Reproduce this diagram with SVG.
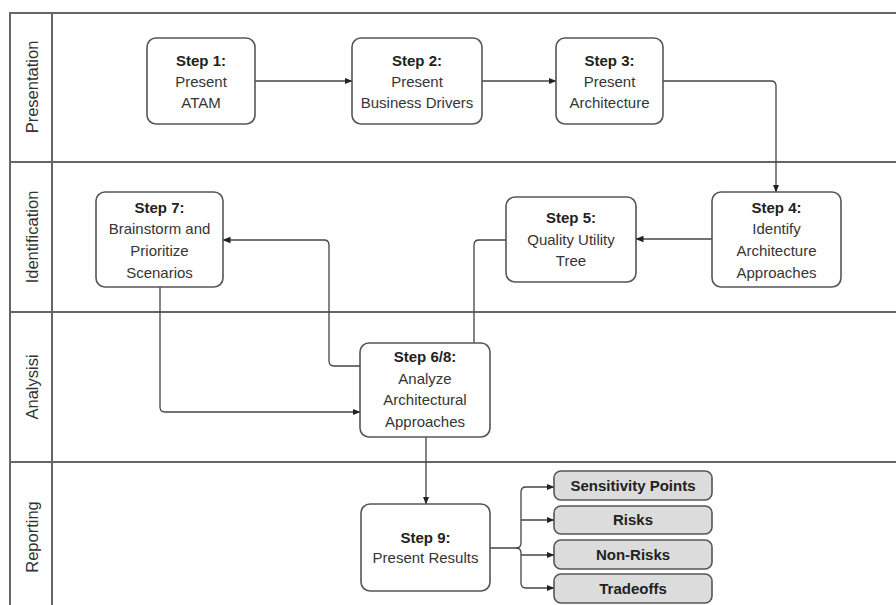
<svg xmlns="http://www.w3.org/2000/svg" width="896" height="605" viewBox="0 0 896 605">
  <defs>
    <marker id="arrow" viewBox="0 0 8 8" refX="7.5" refY="4" markerWidth="8" markerHeight="8" markerUnits="userSpaceOnUse" orient="auto">
      <path d="M0,0.8 L8,4 L0,7.2 Z" fill="#222"/>
    </marker>
  </defs>
  <style>
    .lane { stroke: #666; stroke-width: 2; fill: none; }
    .box { fill: #fff; stroke: #555; stroke-width: 1.6; }
    .out { fill: #dcdcdc; stroke: #555; stroke-width: 1.6; }
    .wire { fill: none; stroke: #444; stroke-width: 1.3; }
    text { font-family: "Liberation Sans", Arial, sans-serif; font-size: 15px; fill: #353535; text-anchor: middle; }
    .b { font-weight: bold; fill: #222; }
    .lbl { font-size: 16.5px; fill: #333; }
  </style>

  <rect width="896" height="605" fill="#fff"/>

  <!-- swimlane grid -->
  <g id="lanes">
    <path class="lane" d="M10,605 V13 H896"/>
    <path class="lane" d="M52,13 V605"/>
    <path class="lane" d="M10,162 H896"/>
    <path class="lane" d="M10,312 H896"/>
    <path class="lane" d="M10,462 H896"/>
    <text class="lbl" transform="translate(38,87) rotate(-90)">Presentation</text>
    <text class="lbl" transform="translate(38,237) rotate(-90)">Identification</text>
    <text class="lbl" transform="translate(38,387) rotate(-90)">Analysisi</text>
    <text class="lbl" transform="translate(38,537) rotate(-90)">Reporting</text>
  </g>

  <!-- connectors -->
  <g id="connectors">
    <path class="wire" d="M255,81 H352" marker-end="url(#arrow)"/>
    <path class="wire" d="M482,81 H556" marker-end="url(#arrow)"/>
    <path class="wire" d="M663,81 H771 Q776,81 776,86 V192" marker-end="url(#arrow)"/>
    <path class="wire" d="M712,239 H636" marker-end="url(#arrow)"/>
    <path class="wire" d="M506,240 H479 Q474,240 474,245 V343"/>
    <path class="wire" d="M360,366 H334 Q329,366 329,361 V245 Q329,240 324,240 H223" marker-end="url(#arrow)"/>
    <path class="wire" d="M160,287 V407 Q160,412 165,412 H360" marker-end="url(#arrow)"/>
    <path class="wire" d="M426,437 V504" marker-end="url(#arrow)"/>
    <path class="wire" d="M490,548 H516 Q521,548 521,543 V492 Q521,487 526,487 H554" marker-end="url(#arrow)"/>
    <path class="wire" d="M516,548 Q521,548 521,553 V583 Q521,588 526,588 H554" marker-end="url(#arrow)"/>
    <path class="wire" d="M521,520 H554" marker-end="url(#arrow)"/>
    <path class="wire" d="M521,555 H554" marker-end="url(#arrow)"/>
  </g>

  <g id="step1">
    <rect class="box" x="147" y="38" width="108" height="86" rx="9"/>
    <text class="b" x="201" y="66">Step 1:</text>
    <text x="201" y="87">Present</text>
    <text x="201" y="108">ATAM</text>
  </g>
  <g id="step2">
    <rect class="box" x="352" y="38" width="130" height="86" rx="9"/>
    <text class="b" x="417" y="66">Step 2:</text>
    <text x="417" y="87">Present</text>
    <text x="417" y="108">Business Drivers</text>
  </g>
  <g id="step3">
    <rect class="box" x="556" y="38" width="107" height="86" rx="9"/>
    <text class="b" x="609.5" y="66">Step 3:</text>
    <text x="609.5" y="87">Present</text>
    <text x="609.5" y="108">Architecture</text>
  </g>
  <g id="step4">
    <rect class="box" x="712" y="192" width="129" height="95" rx="9"/>
    <text class="b" x="776.5" y="213">Step 4:</text>
    <text x="776.5" y="234">Identify</text>
    <text x="776.5" y="256">Architecture</text>
    <text x="776.5" y="278">Approaches</text>
  </g>
  <g id="step5">
    <rect class="box" x="506" y="197" width="130" height="85" rx="9"/>
    <text class="b" x="571" y="223">Step 5:</text>
    <text x="571" y="245">Quality Utility</text>
    <text x="571" y="266">Tree</text>
  </g>
  <g id="step7">
    <rect class="box" x="96" y="192" width="127" height="95" rx="9"/>
    <text class="b" x="159.5" y="213">Step 7:</text>
    <text x="159.5" y="234">Brainstorm and</text>
    <text x="159.5" y="256">Prioritize</text>
    <text x="159.5" y="278">Scenarios</text>
  </g>
  <g id="step6-8">
    <rect class="box" x="360" y="343" width="130" height="94" rx="9"/>
    <text class="b" x="425" y="362">Step 6/8:</text>
    <text x="425" y="384">Analyze</text>
    <text x="425" y="405">Architectural</text>
    <text x="425" y="427">Approaches</text>
  </g>
  <g id="step9">
    <rect class="box" x="361" y="504" width="129" height="87" rx="9"/>
    <text class="b" x="425.5" y="543">Step 9:</text>
    <text x="425.5" y="563">Present Results</text>
  </g>
  <g id="sensitivity-points">
    <rect class="out" x="554" y="471" width="158" height="29" rx="7"/>
    <text class="b" x="633" y="491">Sensitivity Points</text>
  </g>
  <g id="risks">
    <rect class="out" x="554" y="506" width="158" height="28" rx="7"/>
    <text class="b" x="633" y="525">Risks</text>
  </g>
  <g id="non-risks">
    <rect class="out" x="554" y="540" width="158" height="29" rx="7"/>
    <text class="b" x="633" y="560">Non-Risks</text>
  </g>
  <g id="tradeoffs">
    <rect class="out" x="554" y="574" width="158" height="29" rx="7"/>
    <text class="b" x="633" y="594">Tradeoffs</text>
  </g>
</svg>
